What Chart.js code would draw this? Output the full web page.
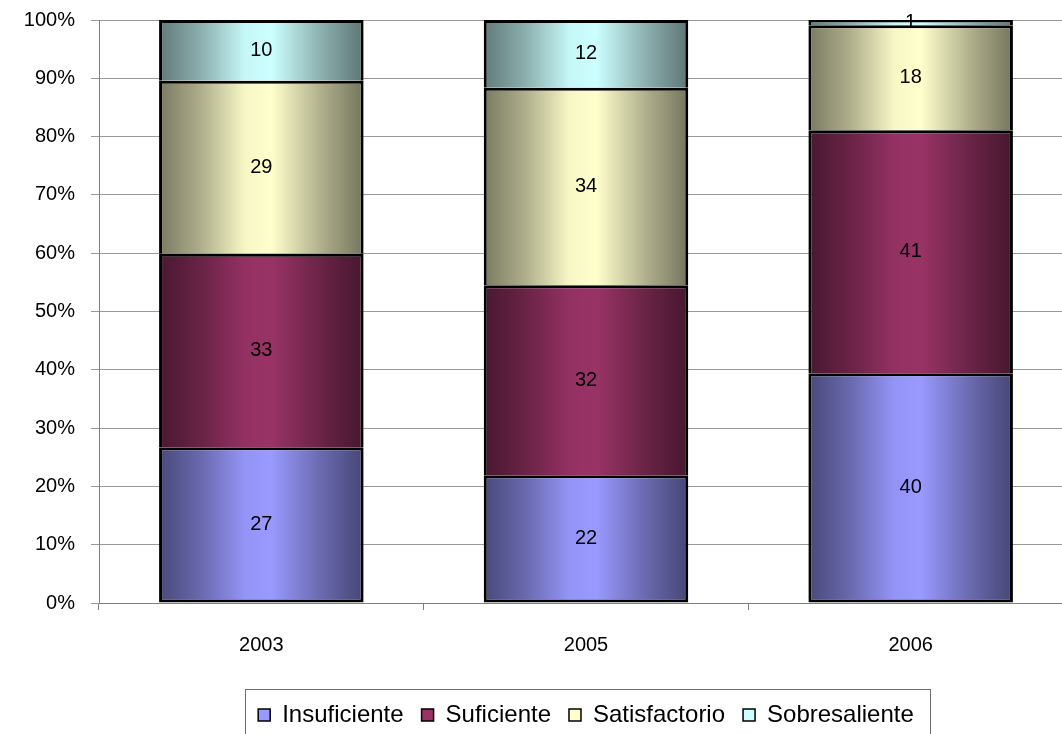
<!DOCTYPE html>
<html>
<head>
<meta charset="utf-8">
<title>Niveles de logro</title>
<script src="https://cdn.jsdelivr.net/npm/chart.js@4"></script>
<style>
    html, body { margin: 0; padding: 0; background: #fff; overflow: hidden; }
    #wrap { position: relative; width: 1080px; height: 737px; }
</style>
</head>
<body>
<div id="wrap"><canvas id="chart"></canvas></div>
<script>
const years = ['2003', '2005', '2006'];
const seriesNames = ['Insuficiente', 'Suficiente', 'Satisfactorio', 'Sobresaliente'];

// share of each level in percent
const insuficiente = [26.7, 21.9, 39.4];
const suficiente = [33.2, 32.6, 41.7];
const satisfactorio = [29.7, 33.9, 18.0];
const sobresaliente = [10.4, 11.6, 0.9];

// numbers printed inside each segment
const insuficienteLabels = [27, 22, 40];
const suficienteLabels = [33, 32, 41];
const satisfactorioLabels = [29, 34, 18];
const sobresalienteLabels = [10, 12, 1];

const yTicks = [0, 10, 20, 30, 40, 50, 60, 70, 80, 90, 100];

const baseColors = ['#9999FF', '#993366', '#FFFFCC', '#CCFFFF'];
const FONT = '"Liberation Sans", Arial, sans-serif';
const BAR_PCT = 0.63;

function shade(hex, f) {
    const n = parseInt(hex.slice(1), 16);
    const r = Math.round(((n >> 16) & 255) * f);
    const g = Math.round(((n >> 8) & 255) * f);
    const b = Math.round((n & 255) * f);
    return `rgb(${r},${g},${b})`;
}

// Excel style horizontal shading: dark edges, light band near the centre
function barFill(base) {
    return (ctx) => {
        const chart = ctx.chart;
        if (!chart.chartArea || ctx.dataIndex === undefined) return base;
        const xScale = chart.scales.x;
        const cx = xScale.getPixelForValue(ctx.dataIndex);
        const half = xScale.width / years.length * BAR_PCT / 2;
        const grad = chart.ctx.createLinearGradient(cx - half, 0, cx + half, 0);
        grad.addColorStop(0, shade(base, 0.48));
        grad.addColorStop(0.2, shade(base, 0.68));
        grad.addColorStop(0.42, shade(base, 0.97));
        grad.addColorStop(0.55, shade(base, 1));
        grad.addColorStop(0.8, shade(base, 0.68));
        grad.addColorStop(1, shade(base, 0.46));
        return grad;
    };
}

const seriesValues = [insuficiente, suficiente, satisfactorio, sobresaliente];
const seriesLabels = [insuficienteLabels, suficienteLabels, satisfactorioLabels, sobresalienteLabels];

const datasets = seriesNames.map((name, i) => ({
    label: name,
    data: seriesValues[i],
    valueLabels: seriesLabels[i],
    backgroundColor: barFill(baseColors[i]),
    borderColor: '#000',
    borderWidth: 3,
    borderSkipped: i === 0 ? false : 'start',
    barPercentage: BAR_PCT,
    categoryPercentage: 1
}));

// numbers in the middle of each segment
const segmentLabels = {
    id: 'segmentLabels',
    afterDatasetsDraw(chart) {
        const ctx = chart.ctx;
        ctx.save();
        ctx.font = '20px ' + FONT;
        ctx.fillStyle = '#000';
        ctx.textAlign = 'center';
        ctx.textBaseline = 'middle';
        chart.data.datasets.forEach((ds, i) => {
            chart.getDatasetMeta(i).data.forEach((bar, j) => {
                ctx.fillText(String(ds.valueLabels[j]), bar.x, (bar.y + bar.base) / 2);
            });
        });
        ctx.restore();
    }
};

// thin frame round the legend
const legendFrame = {
    id: 'legendFrame',
    afterDraw(chart) {
        const boxes = chart.legend && chart.legend.legendHitBoxes;
        if (!boxes || !boxes.length) return;
        const last = boxes[boxes.length - 1];
        const left = boxes[0].left - 13;
        const right = last.left + last.width + 16;
        const top = boxes[0].top - 14;
        const ctx = chart.ctx;
        ctx.save();
        ctx.strokeStyle = '#6e6e6e';
        ctx.lineWidth = 1;
        ctx.strokeRect(Math.round(left) + 0.5, Math.round(top) + 0.5, Math.round(right - left), 80);
        ctx.restore();
    }
};

new Chart(document.getElementById('chart'), {
    type: 'bar',
    data: { labels: years, datasets },
    plugins: [segmentLabels, legendFrame],
    options: {
        responsive: true,
        maintainAspectRatio: false,
        animation: false,
        events: [],
        layout: { padding: { top: 20, right: 7, left: 0, bottom: 0 } },
        scales: {
            x: {
                stacked: true,
                afterFit: (scale) => { scale.height = 82; },
                grid: { drawOnChartArea: false, drawTicks: true, tickLength: 7, color: '#808080', offset: true },
                border: { color: '#808080' },
                ticks: { color: '#000', padding: 23, font: { family: FONT, size: 20 } }
            },
            y: {
                stacked: true,
                min: 0,
                max: 100,
                afterFit: (scale) => {
                    scale.width = 99;
                    scale.paddingTop = 0;
                    scale.paddingBottom = 0;
                },
                afterBuildTicks: (scale) => { scale.ticks = yTicks.map(v => ({ value: v })); },
                grid: { color: '#9a9a9a', tickLength: 8 },
                border: { color: '#808080' },
                ticks: {
                    color: '#000',
                    padding: 16,
                    font: { family: FONT, size: 20 },
                    callback: (v) => v + '%'
                }
            }
        },
        plugins: {
            tooltip: { enabled: false },
            legend: {
                position: 'bottom',
                fullSize: false,
                labels: {
                    color: '#000',
                    boxWidth: 12,
                    boxHeight: 12,
                    padding: 18,
                    font: { family: FONT, size: 24 },
                    generateLabels: (chart) => chart.data.datasets.map((ds, i) => ({
                        text: ds.label,
                        fillStyle: baseColors[i],
                        strokeStyle: '#000',
                        lineWidth: 1.5,
                        hidden: false,
                        datasetIndex: i
                    }))
                }
            }
        }
    }
});
</script>
</body>
</html>
